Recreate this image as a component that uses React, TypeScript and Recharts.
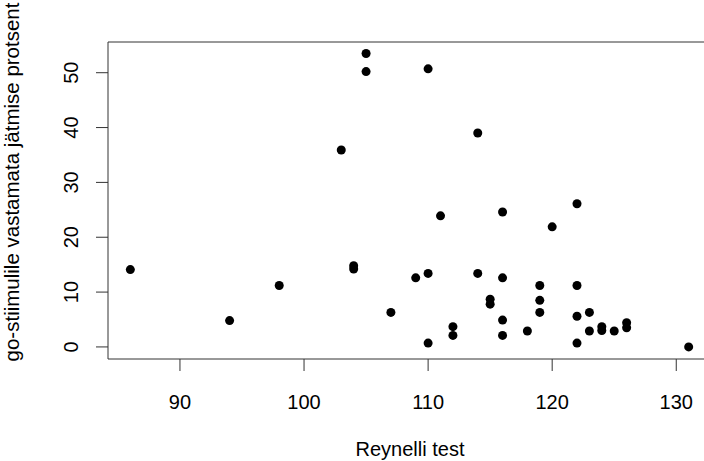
import { ReferenceLine, Scatter, ScatterChart, XAxis, YAxis } from 'recharts';

const reynelli = [
    86, 94, 98, 103, 104, 104, 105, 105, 107, 109, 110, 110, 110, 111, 112,
    112, 114, 114, 115, 115, 116, 116, 116, 116, 118, 119, 119, 119, 120, 122,
    122, 122, 122, 123, 123, 124, 124, 125, 126, 126, 131,
];

const protsent = [
    14.1, 4.8, 11.2, 35.9, 14.8, 14.2, 53.5, 50.2, 6.3, 12.6, 50.7, 13.4, 0.7,
    23.9, 3.7, 2.1, 39.0, 13.4, 8.7, 7.8, 24.6, 12.6, 4.9, 2.1, 2.9, 11.2, 8.5,
    6.3, 21.9, 26.1, 11.2, 5.6, 0.7, 6.3, 2.9, 3.7, 3.0, 2.9, 4.4, 3.5, 0,
];

const xTicks = [90, 100, 110, 120, 130];
const yTicks = [0, 10, 20, 30, 40, 50];

const points = reynelli.map((x, i) => ({ x, y: protsent[i] }));

const FONT = '"Liberation Sans", Arial, sans-serif';

function XTick({ x, y, payload }: any) {
    return (
        <text x={x} y={y + 36} textAnchor="middle" fontSize={20} fill="#000" fontFamily={FONT}>
            {payload.value}
        </text>
    );
}

function YTick({ x, y, payload }: any) {
    const bx = x - 16;
    return (
        <text
            x={bx}
            y={y}
            transform={`rotate(-90 ${bx} ${y})`}
            textAnchor="middle"
            fontSize={20}
            fill="#000"
            fontFamily={FONT}
        >
            {payload.value}
        </text>
    );
}

function Dot({ cx, cy }: any) {
    return <circle cx={cx} cy={cy} r={4.5} fill="#000" />;
}

export default function App() {
    return (
        <div
            style={{
                position: 'fixed',
                left: 0,
                top: 0,
                width: 704,
                height: 461,
                overflow: 'hidden',
                background: '#fff',
            }}
        >
            <ScatterChart
                width={720}
                height={461}
                margin={{ top: 42, right: 9, bottom: 0, left: 0 }}
            >
                <XAxis
                    type="number"
                    dataKey="x"
                    domain={[84.2, 132.8]}
                    ticks={xTicks}
                    allowDataOverflow
                    height={102}
                    tickSize={12}
                    tick={<XTick />}
                    stroke="#333"
                    label={() => (
                        <text x={410} y={456} textAnchor="middle" fontSize={20} fill="#000" fontFamily={FONT}>
                            Reynelli test
                        </text>
                    )}
                />
                <YAxis
                    type="number"
                    dataKey="y"
                    domain={[-2.2, 55.6]}
                    ticks={yTicks}
                    allowDataOverflow
                    width={108}
                    tickSize={12}
                    tick={<YTick />}
                    stroke="#333"
                    label={() => (
                        <text
                            x={19}
                            y={182}
                            transform="rotate(-90 19 182)"
                            textAnchor="middle"
                            fontSize={20.5}
                            fill="#000"
                            fontFamily={FONT}
                        >
                            go-stiimulile vastamata jätmise protsent
                        </text>
                    )}
                />
                <ReferenceLine y={55.6} stroke="#333" ifOverflow="visible" />
                <Scatter data={points} fill="#000" shape={<Dot />} isAnimationActive={false} />
            </ScatterChart>
        </div>
    );
}
